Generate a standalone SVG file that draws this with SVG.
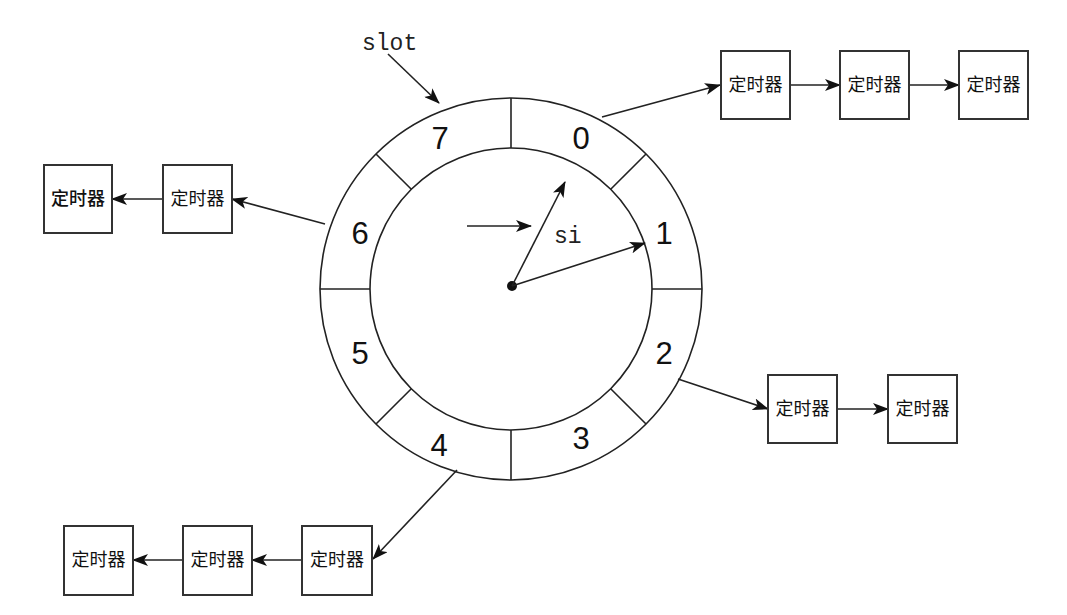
<svg xmlns="http://www.w3.org/2000/svg" width="1067" height="615" viewBox="0 0 1067 615">
<style>
.ring{fill:none;stroke:#222;stroke-width:1.6}
.div{stroke:#222;stroke-width:1.6}
.num{font-family:"Liberation Sans",Arial,sans-serif;font-size:31px;fill:#111;text-anchor:middle}
.lbl{font-family:"Liberation Mono",monospace;font-size:23px;fill:#222}
.box{fill:#fff;stroke:#333;stroke-width:2}
.bt{font-family:"Noto Sans CJK SC",sans-serif;font-size:18px;fill:#111;text-anchor:middle}
.con{fill:none;stroke:#222;stroke-width:1.6;marker-end:url(#ah)}
</style>
<defs>
<marker id="ah" markerUnits="userSpaceOnUse" markerWidth="16" markerHeight="12" refX="15" refY="6" orient="auto">
<path d="M0,0 L16,6 L0,12 L4,6 z" fill="#111"/>
</marker>
</defs>
<rect width="1067" height="615" fill="#fff"/>
<g id="wheel">
<circle class="ring" cx="511" cy="289" r="191"/>
<circle class="ring" cx="511" cy="289" r="141"/>
<line class="div" x1="511" y1="98" x2="511" y2="148"/>
<line class="div" x1="511" y1="430" x2="511" y2="480"/>
<line class="div" x1="320" y1="289" x2="370" y2="289"/>
<line class="div" x1="652" y1="289" x2="702" y2="289"/>
<line class="div" x1="376" y1="154" x2="411.3" y2="189.3"/>
<line class="div" x1="646" y1="154" x2="610.7" y2="189.3"/>
<line class="div" x1="376" y1="424" x2="411.3" y2="388.7"/>
<line class="div" x1="646" y1="424" x2="610.7" y2="388.7"/>
<text class="num" x="440" y="149">7</text>
<text class="num" x="581" y="149">0</text>
<text class="num" x="664" y="244">1</text>
<text class="num" x="664" y="364">2</text>
<text class="num" x="581" y="449">3</text>
<text class="num" x="439" y="456">4</text>
<text class="num" x="360" y="364">5</text>
<text class="num" x="360" y="244">6</text>
<circle cx="512" cy="286" r="5" fill="#111"/>
<text class="lbl" x="362" y="50">slot</text>
<text class="lbl" x="554" y="243">si</text>
</g>
<g id="connectors">
<line class="con" x1="512" y1="286" x2="565" y2="182"/>
<line class="con" x1="512" y1="286" x2="645" y2="243"/>
<line class="con" x1="467" y1="226" x2="531" y2="226"/>
<line class="con" x1="388" y1="54" x2="439" y2="103"/>
<line class="con" x1="602" y1="117" x2="720" y2="85"/>
<line class="con" x1="790" y1="85" x2="840" y2="85"/>
<line class="con" x1="909" y1="85" x2="959" y2="85"/>
<line class="con" x1="325" y1="224" x2="232" y2="199"/>
<line class="con" x1="163" y1="199" x2="112" y2="199"/>
<line class="con" x1="678" y1="379" x2="768" y2="409"/>
<line class="con" x1="837" y1="409" x2="888" y2="409"/>
<line class="con" x1="457" y1="470" x2="373" y2="559"/>
<line class="con" x1="302" y1="560" x2="252" y2="560"/>
<line class="con" x1="183" y1="560" x2="133" y2="560"/>
</g>
<g id="t0a"><rect class="box" x="721" y="51" width="69" height="68"/><text class="bt" x="755.5" y="91">定时器</text></g>
<g id="t0b"><rect class="box" x="840" y="51" width="69" height="68"/><text class="bt" x="874.5" y="91">定时器</text></g>
<g id="t0c"><rect class="box" x="959" y="51" width="69" height="68"/><text class="bt" x="993.5" y="91">定时器</text></g>
<g id="t6a"><rect class="box" x="163" y="165" width="69" height="68"/><text class="bt" x="197.5" y="205">定时器</text></g>
<g id="t6b"><rect class="box" x="44" y="165" width="68" height="68"/><text class="bt" x="78" y="205" font-weight="500">定时器</text></g>
<g id="t2a"><rect class="box" x="768" y="375" width="69" height="68"/><text class="bt" x="802.5" y="415">定时器</text></g>
<g id="t2b"><rect class="box" x="888" y="375" width="69" height="68"/><text class="bt" x="922.5" y="415">定时器</text></g>
<g id="t4a"><rect class="box" x="302" y="526" width="70" height="69"/><text class="bt" x="337" y="566">定时器</text></g>
<g id="t4b"><rect class="box" x="183" y="526" width="69" height="69"/><text class="bt" x="217.5" y="566">定时器</text></g>
<g id="t4c"><rect class="box" x="64" y="526" width="69" height="69"/><text class="bt" x="98.5" y="566">定时器</text></g>
</svg>
